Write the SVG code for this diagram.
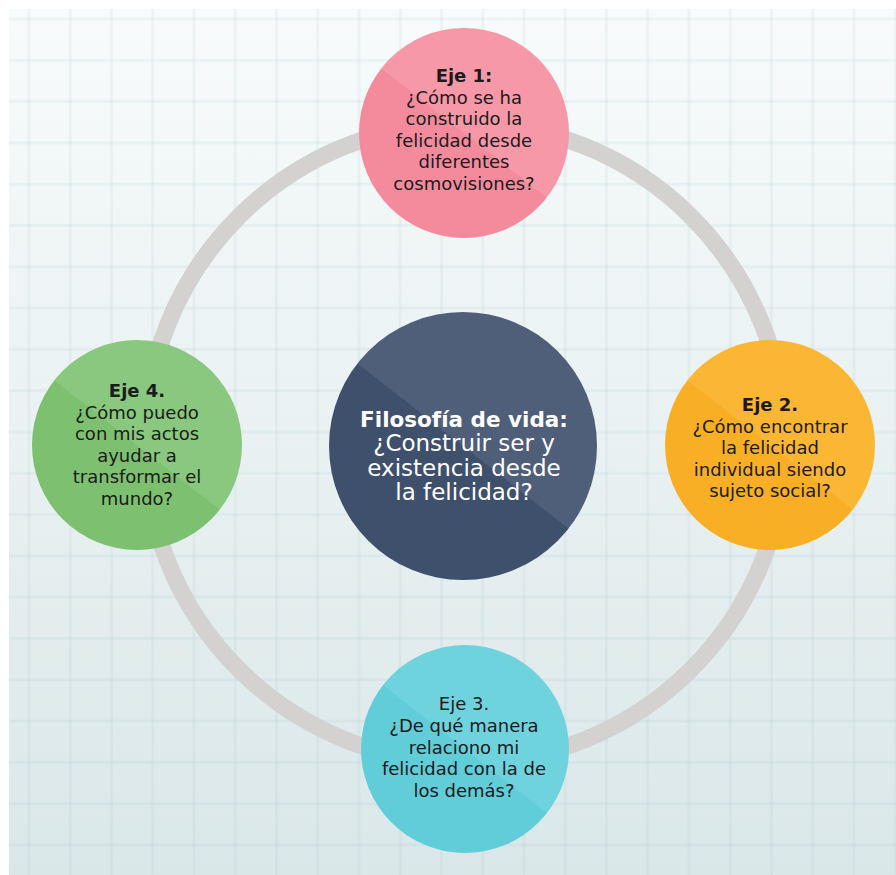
<svg xmlns="http://www.w3.org/2000/svg" width="896" height="875" viewBox="0 0 896 875">
<defs>
<linearGradient id="bg" x1="0" y1="0" x2="0" y2="1">
<stop offset="0" stop-color="#f8fbfb"/>
<stop offset="1" stop-color="#dae7e9"/>
</linearGradient>
<pattern id="gv" x="27.5" y="0" width="41.25" height="875" patternUnits="userSpaceOnUse">
<rect x="0" y="0" width="3" height="875" fill="#8fb6bd" fill-opacity="0.11"/>
</pattern>
<pattern id="gh" x="0" y="17.5" width="896" height="41.3" patternUnits="userSpaceOnUse">
<rect x="0" y="0" width="896" height="3" fill="#8fb6bd" fill-opacity="0.11"/>
</pattern>
<linearGradient id="gPink" x1="0.192" y1="0.894" x2="0.808" y2="0.106">
<stop offset="0.5" stop-color="#f48b9d"/><stop offset="0.5" stop-color="#f798a8"/>
</linearGradient>
<linearGradient id="gOrange" x1="0.192" y1="0.894" x2="0.808" y2="0.106">
<stop offset="0.5" stop-color="#f9af25"/><stop offset="0.5" stop-color="#fbb733"/>
</linearGradient>
<linearGradient id="gGreen" x1="0.192" y1="0.894" x2="0.808" y2="0.106">
<stop offset="0.5" stop-color="#7dc170"/><stop offset="0.5" stop-color="#89c87e"/>
</linearGradient>
<linearGradient id="gCyan" x1="0.192" y1="0.894" x2="0.808" y2="0.106">
<stop offset="0.5" stop-color="#60cdd9"/><stop offset="0.5" stop-color="#6fd3de"/>
</linearGradient>
<linearGradient id="gDark" x1="0.192" y1="0.894" x2="0.808" y2="0.106">
<stop offset="0.5" stop-color="#3f506c"/><stop offset="0.5" stop-color="#4f5e79"/>
</linearGradient>
</defs>
<style>
.t { font-family: "DejaVu Sans", "Noto Sans", sans-serif; font-size: 18px; fill: #1b1b1b; text-anchor: middle; }
.b { font-weight: bold; }
.c { font-family: "DejaVu Sans", "Noto Sans", sans-serif; font-size: 23px; fill: #ffffff; text-anchor: middle; }
.cb { font-weight: bold; font-size: 21.5px; }
.ring { fill: none; stroke: #d3d2d0; stroke-width: 17; }
</style>
<rect x="0" y="0" width="896" height="875" fill="#ffffff"/>
<g id="background">
<rect x="9" y="9" width="887" height="866" fill="url(#bg)"/>
<rect x="9" y="9" width="887" height="866" fill="url(#gv)"/>
<rect x="9" y="9" width="887" height="866" fill="url(#gh)"/>
</g>
<g id="connectors">
<circle class="ring" cx="465" cy="443" r="320"/>
</g>
<g id="node-eje1">
<circle cx="464" cy="133" r="105" fill="url(#gPink)"/>
<text class="t"><tspan class="b" x="464" y="82">Eje 1:</tspan><tspan x="464" y="103.6">¿Cómo se ha</tspan><tspan x="464" y="125.2">construido la</tspan><tspan x="464" y="146.8">felicidad desde</tspan><tspan x="464" y="168.4">diferentes</tspan><tspan x="464" y="190">cosmovisiones?</tspan></text>
</g>
<g id="node-eje2">
<circle cx="770" cy="445" r="105" fill="url(#gOrange)"/>
<text class="t"><tspan class="b" x="770" y="411">Eje 2.</tspan><tspan x="770" y="432.5">¿Cómo encontrar</tspan><tspan x="770" y="454">la felicidad</tspan><tspan x="770" y="475.5">individual siendo</tspan><tspan x="770" y="497">sujeto social?</tspan></text>
</g>
<g id="node-eje3">
<circle cx="465" cy="749" r="104" fill="url(#gCyan)"/>
<text class="t"><tspan x="464" y="710">Eje 3.</tspan><tspan x="464" y="731.75">¿De qué manera</tspan><tspan x="464" y="753.5">relaciono mi</tspan><tspan x="464" y="775.25">felicidad con la de</tspan><tspan x="464" y="797">los demás?</tspan></text>
</g>
<g id="node-eje4">
<circle cx="137" cy="445" r="105" fill="url(#gGreen)"/>
<text class="t"><tspan class="b" x="137" y="397">Eje 4.</tspan><tspan x="137" y="418.6">¿Cómo puedo</tspan><tspan x="137" y="440.2">con mis actos</tspan><tspan x="137" y="461.8">ayudar a</tspan><tspan x="137" y="483.4">transformar el</tspan><tspan x="137" y="505">mundo?</tspan></text>
</g>
<g id="node-center">
<circle cx="463" cy="446" r="134" fill="url(#gDark)"/>
<text class="c"><tspan class="cb" x="464" y="427">Filosofía de vida:</tspan><tspan x="464" y="451.3">¿Construir ser y</tspan><tspan x="464" y="475.6">existencia desde</tspan><tspan x="464" y="500">la felicidad?</tspan></text>
</g>
</svg>
